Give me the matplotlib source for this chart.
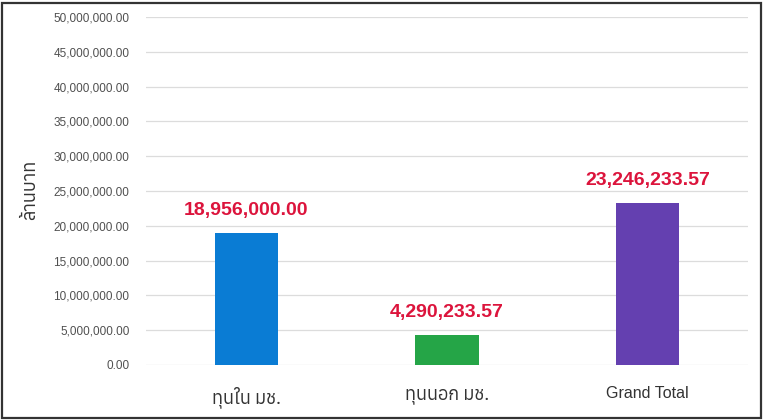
import matplotlib
matplotlib.use("Agg")
import matplotlib.pyplot as plt
from matplotlib import font_manager
from matplotlib.ft2font import FT2Font
from matplotlib.patches import Rectangle

categories = ["ทุนใน มช.", "ทุนนอก มช.", "Grand Total"]
values = [18956000.00, 4290233.57, 23246233.57]
bar_colors = ["#0a7cd4", "#25a547", "#6440b0"]
y_ticks = [0, 5e6, 10e6, 15e6, 20e6, 25e6, 30e6, 35e6, 40e6, 45e6, 50e6]
y_label = "ล้านบาท"

# find a font covering Thai
names = []
for f in font_manager.fontManager.ttflist:
    try:
        ft = FT2Font(f.fname)
        cm = ft.get_charmap()
        if 0x0E17 in cm and 0x0E19 in cm:
            names.append(f.name)
    except Exception:
        pass
thai_font = sorted(set(names))[0] if names else None
thai_fam = ([thai_font] if thai_font else []) + ["Liberation Sans", "DejaVu Sans"]

def has_thai(s):
    return any(0x0E00 <= ord(c) <= 0x0E7F for c in s)

fig = plt.figure(figsize=(7.63, 4.20), dpi=100)
ax = fig.add_axes([0.1914, 0.131, 0.789, 0.8285])

x = list(range(len(categories)))
ax.bar(x, values, width=0.315, color=bar_colors, zorder=3)
ax.set_xlim(-0.5, 2.5)
ax.set_ylim(0, 50e6)
ax.set_yticks(y_ticks)
ax.set_yticklabels([f"{v:,.2f}" for v in y_ticks], family="Liberation Sans",
                   fontsize=8.5, color="#505050")
ax.set_xticks(x)
labels = ax.set_xticklabels(categories, fontsize=12, color="#333333")
for lab, txt in zip(labels, categories):
    if has_thai(txt):
        lab.set_family(thai_fam)
        lab.set_fontsize(13)
    else:
        lab.set_family("Liberation Sans")
        lab.set_fontsize(11.5)
ax.tick_params(axis="both", length=0)
ax.tick_params(axis="x", pad=15)
ax.tick_params(axis="y", pad=12)
ax.grid(axis="y", color="#dcdcdc", linewidth=0.9, zorder=0)
for s in ax.spines.values():
    s.set_visible(False)

for xi, v in zip(x, values):
    ax.annotate(f"{v:,.2f}", (xi, v), xytext=(0, 10), textcoords="offset points",
                ha="center", va="bottom", fontsize=14, fontweight="bold",
                color="#dc143c", family="Liberation Sans")

fig.text(0.04, 0.548, y_label, rotation=90, ha="center", va="center",
         family=thai_fam, fontsize=13, color="#333333")

fig.patches.append(Rectangle((0.002, 0.004), 0.995, 0.99, transform=fig.transFigure,
                             fill=False, edgecolor="#333333", linewidth=1.6))

fig.savefig("out.png", dpi=100)
